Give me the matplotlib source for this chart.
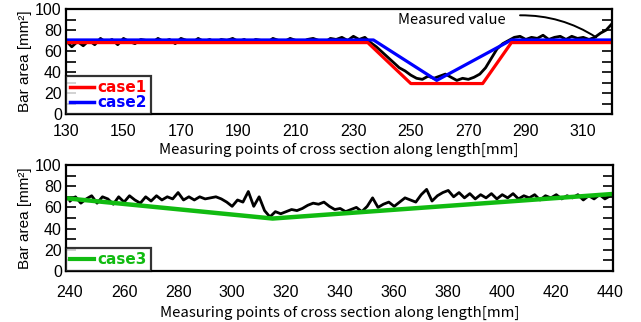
import numpy as np
import matplotlib.pyplot as plt
from matplotlib.ticker import MultipleLocator
from matplotlib.lines import Line2D

# measured bar area, upper panel (every 2 mm from 130 to 320)
x_top = list(range(130, 321, 2))
measured_top = [70, 64, 69, 65, 70, 66, 72, 68, 71, 66,
                72, 69, 67, 71, 70, 68, 72, 69, 71, 67,
                72, 70, 68, 72, 69, 71, 68, 71, 70, 72,
                69, 71, 68, 71, 70, 68, 72, 70, 69, 72,
                70, 68, 71, 72, 70, 68, 72, 71, 73, 70,
                74, 71, 73, 68, 64, 59, 54, 49, 44, 41,
                37, 34, 33, 36, 34, 36, 38, 35, 32, 34,
                33, 35, 38, 44, 53, 62, 67, 70, 73, 74,
                71, 73, 72, 75, 71, 73, 74, 71, 74, 72,
                73, 71, 73, 77, 80, 86]

case1_x = [130, 235, 250, 275, 285, 320]
case1_y = [68, 68, 29, 29, 68, 68]
case2_x = [130, 237, 259, 285, 320]
case2_y = [70.5, 70.5, 32, 70.5, 70.5]

# measured bar area, lower panel (every 2 mm from 240 to 440)
x_bot = list(range(240, 441, 2))
measured_bot = [66, 70, 64, 68, 71, 64, 70, 68, 63, 70,
                65, 71, 67, 64, 70, 66, 71, 67, 70, 68,
                74, 67, 70, 67, 70, 68, 69, 70, 68, 65,
                61, 67, 65, 75, 61, 70, 57, 51, 56, 54,
                56, 58, 57, 59, 62, 64, 63, 65, 61, 58,
                59, 56, 58, 60, 56, 61, 69, 60, 63, 65,
                61, 65, 69, 67, 65, 72, 77, 66, 71, 74,
                76, 70, 74, 69, 73, 68, 72, 69, 73, 68,
                72, 69, 73, 68, 71, 69, 72, 67, 71, 69,
                72, 68, 71, 69, 72, 67, 71, 68, 72, 68,
                71]

case3_x = [239, 315, 440]
case3_y = [68.5, 49.5, 72.5]

tick_font = 'Liberation Sans'
label_font = ['Noto Sans CJK JP', 'DejaVu Sans']

fig = plt.figure(figsize=(6.41, 3.22), dpi=100)
ax1 = fig.add_axes([66/641, 1 - 114/322, 546/641, 105/322])
ax2 = fig.add_axes([66/641, 1 - 271/322, 547/641, 106/322])


def style(ax, xlim, xticks, xpad, lpad):
    ax.set_xlim(*xlim)
    ax.set_ylim(0, 100)
    ax.set_xticks(xticks)
    ax.yaxis.set_major_locator(MultipleLocator(20))
    ax.yaxis.set_minor_locator(MultipleLocator(10))
    ax.tick_params(axis='y', which='both', direction='in', length=7,
                   width=1.2, left=True, right=True, pad=3)
    ax.tick_params(axis='x', which='both', length=0, pad=xpad)
    for sp in ax.spines.values():
        sp.set_linewidth(1.6)
    for lab in ax.get_xticklabels() + ax.get_yticklabels():
        lab.set_fontfamily(tick_font)
        lab.set_fontsize(11.5)
    ax.set_ylabel('Bar area [mm²]', fontfamily=tick_font, fontsize=11, labelpad=2)
    ax.set_xlabel('Measuring points of cross section along length[mm]',
                  fontfamily=label_font, fontsize=10.8, labelpad=lpad)


def legend(ax, colors, names, lw):
    handles = [Line2D([], [], color=c, lw=lw) for c in colors]
    leg = ax.legend(handles, names, loc='lower left', bbox_to_anchor=(0, 0),
                    frameon=True, fancybox=False, borderpad=0.25, handlelength=1.6,
                    handletextpad=0.2, labelspacing=0.0, borderaxespad=0,
                    prop={'family': 'DejaVu Sans', 'weight': 'bold', 'size': 11})
    leg.get_frame().set_edgecolor('black')
    leg.get_frame().set_linewidth(1.6)
    for t, c in zip(leg.get_texts(), colors):
        t.set_color(c)


# upper panel
ax1.plot(x_top, measured_top, color='black', lw=2)
ax1.plot(case2_x, case2_y, color='#0000ff', lw=2.3)
ax1.plot(case1_x, case1_y, color='#ff0000', lw=2.3)
style(ax1, (130, 320), range(130, 321, 20), 7, 3)
ax1.text(245.5, 90, 'Measured value', fontfamily=label_font, fontsize=10.6,
         ha='left', va='center')
ax1.annotate('', xy=(314.5, 73), xytext=(288, 94),
             arrowprops=dict(arrowstyle='-', color='black', lw=1.4,
                             shrinkA=0, shrinkB=0,
                             connectionstyle='arc3,rad=-0.15'))
legend(ax1, ['#ff0000', '#0000ff'], ['case1', 'case2'], 2.5)

# lower panel
ax2.plot(x_bot, measured_bot, color='black', lw=2)
ax2.plot(case3_x, case3_y, color='#11bb11', lw=3.2)
style(ax2, (238.5, 441), range(240, 441, 20), 10, 4)
legend(ax2, ['#11bb11'], ['case3'], 3)

fig.savefig('out.png', dpi=100)
